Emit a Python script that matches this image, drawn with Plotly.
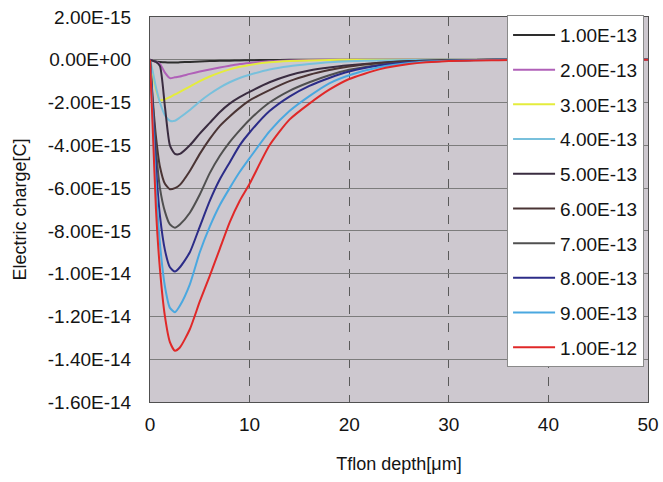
import plotly.graph_objects as go

# Teflon depth [um]
depth = [0, 0.3, 0.6, 1, 1.5, 2, 2.5, 3, 4, 5, 6, 7, 8, 9, 10, 12, 14, 16, 18, 20, 23, 26, 30, 35, 40, 45, 50]

# Electric charge in units of 1e-15 C
SCALE = 1e-15
q_1e13 = [0, -0.05, -0.08, -0.1, -0.12, -0.13, -0.13, -0.12, -0.1, -0.08, -0.06, -0.05, -0.04, -0.03, -0.02, -0.01, 0, 0, 0, 0, 0, 0, 0, 0, 0, 0, 0]
q_2e13 = [0, -0.05, -0.1, -0.2, -0.6, -0.86, -0.82, -0.78, -0.66, -0.55, -0.45, -0.36, -0.28, -0.2, -0.15, -0.07, -0.03, -0.01, 0, 0, 0, 0, 0, 0, 0, 0, 0]
q_3e13 = [0, -0.7, -1.4, -1.9, -1.85, -1.75, -1.62, -1.5, -1.25, -1.0, -0.78, -0.6, -0.45, -0.33, -0.24, -0.12, -0.06, -0.03, -0.01, 0, 0, 0, 0, 0, 0, 0, 0]
q_4e13 = [0, -0.6, -1.3, -2.0, -2.6, -2.85, -2.85, -2.7, -2.35, -1.95, -1.6, -1.3, -1.05, -0.85, -0.7, -0.45, -0.3, -0.2, -0.12, -0.07, -0.03, -0.01, 0, 0, 0, 0, 0]
q_5e13 = [0, -0.05, -0.1, -0.3, -2.2, -4.0, -4.4, -4.4, -4.0, -3.45, -2.95, -2.45, -2.05, -1.75, -1.5, -1.05, -0.72, -0.5, -0.36, -0.26, -0.14, -0.06, -0.02, 0, 0, 0, 0]
q_6e13 = [0, -2.0, -3.6, -5.0, -5.8, -6.05, -6.0, -5.85, -5.2, -4.4, -3.7, -3.1, -2.65, -2.25, -1.9, -1.42, -1.0, -0.7, -0.48, -0.31, -0.16, -0.07, -0.02, 0, 0, 0, 0]
q_7e13 = [0, -2.2, -4.2, -6.0, -7.1, -7.7, -7.85, -7.7, -7.15, -6.3, -5.3, -4.5, -3.85, -3.3, -2.8, -2.0, -1.45, -1.05, -0.72, -0.47, -0.24, -0.1, -0.03, 0, 0, 0, 0]
q_8e13 = [0, -2.5, -5.0, -7.3, -8.9, -9.7, -9.9, -9.7, -9.0, -7.8, -6.6, -5.6, -4.8, -4.0, -3.4, -2.4, -1.72, -1.22, -0.85, -0.55, -0.27, -0.12, -0.04, 0, 0, 0, 0]
q_9e13 = [0, -3.0, -6.0, -8.6, -10.6, -11.6, -11.8, -11.5, -10.5, -9.0, -7.8, -6.8, -6.0, -5.25, -4.6, -3.35, -2.4, -1.7, -1.1, -0.72, -0.35, -0.15, -0.05, 0, 0, 0, 0]
q_1e12 = [0, -3.5, -7.0, -9.8, -12.0, -13.2, -13.6, -13.45, -12.6, -11.3, -10.1, -8.85, -7.6, -6.6, -5.8, -4.0, -2.8, -2.05, -1.4, -0.9, -0.45, -0.2, -0.06, -0.02, 0, 0, 0]

series_names = ["1.00E-13", "2.00E-13", "3.00E-13", "4.00E-13", "5.00E-13",
                "6.00E-13", "7.00E-13", "8.00E-13", "9.00E-13", "1.00E-12"]
series_values = [q_1e13, q_2e13, q_3e13, q_4e13, q_5e13, q_6e13, q_7e13, q_8e13, q_9e13, q_1e12]
series_colors = ["#2e2e2e", "#b060b8", "#e4ec3c", "#78c0dc", "#3a2c40",
                 "#4a3434", "#505050", "#2c2c88", "#4aa8e0", "#e02828"]

y_tickvals = [2e-15, 0, -2e-15, -4e-15, -6e-15, -8e-15, -1e-14, -1.2e-14, -1.4e-14, -1.6e-14]
y_ticktext = ["2.00E-15", "0.00E+00", "-2.00E-15", "-4.00E-15", "-6.00E-15",
              "-8.00E-15", "-1.00E-14", "-1.20E-14", "-1.40E-14", "-1.60E-14"]
x_tickvals = [0, 10, 20, 30, 40, 50]

FONT = "Liberation Sans, Arial, sans-serif"

fig = go.Figure()
for i, (name, vals, col) in enumerate(zip(series_names, series_values, series_colors)):
    fig.add_trace(go.Scatter(
        x=depth, y=[v * SCALE for v in vals], mode="lines", name=name,
        line=dict(color=col, width=2, shape="spline", smoothing=0.6),
        legendgroup="g%d" % i,
    ))

fig.update_layout(
    width=663, height=482,
    margin=dict(l=150, r=15, t=17, b=80),
    paper_bgcolor="white",
    plot_bgcolor="#cdc8cf",
    font=dict(family=FONT, size=18, color="#141414"),
    showlegend=True,
    legend=dict(
        x=0.717, y=1.005, xanchor="left", yanchor="top",
        bgcolor="white", bordercolor="#8a8a8a", borderwidth=1,
        font=dict(family=FONT, size=19, color="#141414"),
        tracegroupgap=7, itemwidth=42, maxheight=460,
    ),
    xaxis=dict(
        range=[0, 50], tickvals=x_tickvals, showgrid=True,
        gridcolor="#5a5a5a", griddash="dash", gridwidth=1,
        showline=True, linecolor="#505050", mirror=True,
        zeroline=False, ticks="", ticklabelstandoff=5, automargin=False,
        tickfont=dict(size=19),
        title=dict(text="Tflon depth[μm]", font=dict(size=18), standoff=23),
    ),
    yaxis=dict(
        range=[-1.6e-14, 2e-15], tickvals=y_tickvals, ticktext=y_ticktext,
        showgrid=True, gridcolor="#7c7c7c", gridwidth=1,
        showline=True, linecolor="#505050", mirror=True,
        zeroline=False, ticks="", ticklabelstandoff=14, automargin=False,
        tickfont=dict(size=19),
        title=dict(text="Electric charge[C]", font=dict(size=18), standoff=16),
    ),
)

fig.write_html(
    "out.html",
    config={"displayModeBar": False},
    post_script="document.body.style.margin='0px';document.body.style.overflow='hidden';",
)
